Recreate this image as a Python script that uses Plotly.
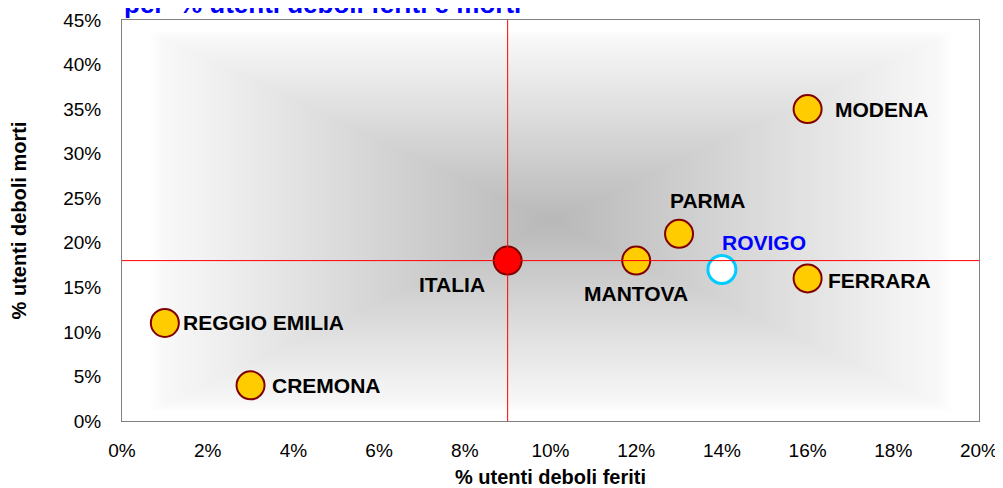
import numpy as np
import plotly.graph_objects as go

# ---- data ----
provinces = ["REGGIO EMILIA", "CREMONA", "ITALIA", "MANTOVA", "PARMA", "ROVIGO", "MODENA", "FERRARA"]
feriti = [0.01, 0.03, 0.09, 0.12, 0.13, 0.14, 0.16, 0.16]   # % utenti deboli feriti
morti = [0.11, 0.04, 0.18, 0.18, 0.21, 0.17, 0.35, 0.16]    # % utenti deboli morti
ref_x = 0.09
ref_y = 0.18
x_ticks = [i / 100 for i in range(0, 21, 2)]
y_ticks = [i / 100 for i in range(0, 46, 5)]

FONT = "Liberation Sans, Arial, sans-serif"

# styles
fill = {"ITALIA": "#FF0000", "ROVIGO": "#FFFFFF"}
line = {"ROVIGO": "#00CCFF"}
lw = {"ROVIGO": 3}
# label placement (pixel offsets)
lab = {
    "REGGIO EMILIA": dict(xanchor="left", yanchor="middle", xshift=16, yshift=0),
    "CREMONA": dict(xanchor="left", yanchor="middle", xshift=19, yshift=0),
    "ITALIA": dict(xanchor="right", yanchor="middle", xshift=-21, yshift=-24),
    "MANTOVA": dict(xanchor="center", yanchor="middle", xshift=0, yshift=-33),
    "PARMA": dict(xanchor="center", yanchor="middle", xshift=28, yshift=33),
    "ROVIGO": dict(xanchor="center", yanchor="middle", xshift=42, yshift=27),
    "MODENA": dict(xanchor="left", yanchor="middle", xshift=25, yshift=0),
    "FERRARA": dict(xanchor="left", yanchor="middle", xshift=18, yshift=-2),
}

fig = go.Figure()

# background rectangular gradient (decoration only)
gx = np.linspace(0, 0.20, 241)
gy = np.linspace(0, 0.45, 121)
GX, GY = np.meshgrid(gx / 0.20, gy / 0.45)
d = np.maximum(np.abs(GX - 0.5) / 0.47, np.abs(GY - 0.5) / 0.475)
z = np.clip(1 - d, 0, 1)
fig.add_trace(go.Heatmap(
    x=gx, y=gy, z=z, zsmooth="best",
    colorscale=[[0, "#FFFFFF"], [0.04, "#F8F8F8"], [1, "#B8B8B8"]],
    showscale=False, hoverinfo="skip", zmin=0, zmax=1,
))

# reference lines
fig.add_shape(type="line", xref="x", yref="y", x0=ref_x, x1=ref_x, y0=0, y1=0.45,
              line=dict(color="#FF0000", width=1), layer="above")
fig.add_shape(type="line", xref="x", yref="y", x0=0, x1=0.20, y0=ref_y, y1=ref_y,
              line=dict(color="#FF0000", width=1), layer="above")

fig.add_trace(go.Scatter(
    x=feriti, y=morti, mode="markers",
    marker=dict(
        size=28,
        color=[fill.get(p, "#FFCC00") for p in provinces],
        line=dict(color=[line.get(p, "#800000") for p in provinces],
                  width=[lw.get(p, 2) for p in provinces]),
    ),
    hoverinfo="skip", showlegend=False,
))

for p, xv, yv in zip(provinces, feriti, morti):
    fig.add_annotation(
        x=xv, y=yv, xref="x", yref="y", text=f"<b>{p}</b>", showarrow=False,
        font=dict(family=FONT, size=21, color="#0000FF" if p == "ROVIGO" else "#000000"),
        **lab[p],
    )

fig.add_annotation(
    x=0, y=1, xref="paper", yref="paper", xanchor="left", yanchor="bottom",
    text="<b>per  % utenti deboli feriti e morti</b>", showarrow=False,
    font=dict(family=FONT, size=26, color="#0000FF"), xshift=0, yshift=-1,
)

# the page body adds an 8px offset; the size and margins compensate so the
# plot area lands on the reference position
fig.update_layout(
    width=995, height=480,
    margin=dict(l=114, r=24, t=12, b=67),
    paper_bgcolor="#FFFFFF", plot_bgcolor="#FFFFFF",
    font=dict(family=FONT, size=19, color="#000000"),
    showlegend=False,
    xaxis=dict(
        range=[0, 0.20], tickvals=x_ticks, tickformat=".0%", showgrid=False, zeroline=False,
        showline=True, linecolor="#808080", linewidth=1, mirror=True, ticks="",
        title=dict(text="<b>% utenti deboli feriti</b>", font=dict(size=20), standoff=11),
        ticklabelstandoff=12, automargin=False,
    ),
    yaxis=dict(
        range=[0, 0.45], tickvals=y_ticks, tickformat=".0%", showgrid=False, zeroline=False,
        showline=True, linecolor="#808080", linewidth=1, mirror=True, ticks="",
        title=dict(text="<b>% utenti deboli morti</b>", font=dict(size=20), standoff=34),
        ticklabelstandoff=16, automargin=False,
    ),
)

fig.write_html("out.html")
